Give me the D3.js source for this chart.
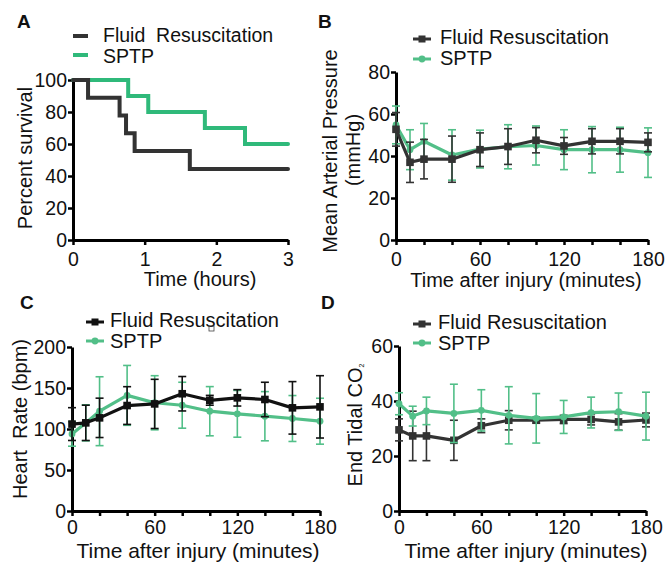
<!DOCTYPE html>
<html>
<head>
<meta charset="utf-8">
<script src="https://cdn.jsdelivr.net/npm/d3@7"></script>
<style>
  body { margin: 0; background: #fff; }
  svg { display: block; font-family: "Liberation Sans", Arial, sans-serif; }
</style>
</head>
<body>
<svg id="fig" width="666" height="562"></svg>
<script>
// Panel A - Kaplan-Meier survival
const kmFluidT = [0, 0.21, 0.65, 0.74, 0.86, 1.63, 3];
const kmFluidS = [100, 88.9, 77.8, 66.7, 55.6, 44.4, 44.4];
const kmSptpT = [0, 0.77, 1.05, 1.84, 2.4, 3];
const kmSptpS = [100, 90, 80, 70, 60, 60];

// time points (minutes) for B, C, D
const minutes = [0, 10, 20, 40, 60, 80, 100, 120, 140, 160, 180];

// Panel B - mean arterial pressure
const mapFluid = [52.7, 37, 38.5, 38.5, 43, 44.5, 47.5, 44.8, 47, 47, 46.5];
const mapFluidErr = [8, 9.6, 9.4, 11, 8, 8.5, 6, 4, 6, 6, 4.5];
const mapSptp = [54.8, 43, 47, 40.5, 43.3, 44.4, 45, 43, 43, 43, 41.6];
const mapSptpErr = [9, 9.5, 8.5, 12, 9, 10.5, 9.3, 9.5, 11, 10.7, 11.8];

// Panel C - heart rate
const hrFluid = [106, 107.5, 113.6, 128.6, 130.6, 143, 135, 138, 136, 125.8, 127];
const hrFluidErr = [20, 21.5, 24, 23, 30, 21, 6, 10, 21, 32, 38];
const hrSptp = [94, 107.5, 121.7, 141, 132, 129, 121.7, 118.5, 115.6, 112.8, 109.5];
const hrSptpErr = [15, 22, 42, 36.5, 33, 28, 30, 28.5, 30, 28, 28];

// Panel D - end tidal CO2
const co2Fluid = [29.5, 27.3, 27.3, 25.7, 31, 33, 33, 33.3, 33.3, 32.4, 33.1];
const co2FluidErr = [4, 9, 9, 7.3, 2.5, 3.5, 1, 1.5, 2, 3, 2.5];
const co2Sptp = [39, 34.5, 36.4, 35.5, 36.6, 34.8, 33.7, 34.2, 35.8, 36.1, 34.5];
const co2SptpErr = [4, 3.6, 5, 10.6, 7.5, 10.4, 9, 6, 5.6, 6.8, 8.7];

const minuteTicks = [0, 20, 40, 60, 80, 100, 120, 140, 160, 180];
const minuteLabels = [0, 60, 120, 180];

const DARK = "#333333";
const BLACK = "#111111";
const GREEN_A = "#2fb97a";
const GREEN = "#52bf88";

const svg = d3.select("#fig");

function styleAxis(g, fontSize) {
  g.attr("font-family", null).attr("font-size", null);
  g.select(".domain").attr("stroke", "#000").attr("stroke-width", 3);
  g.selectAll(".tick line").attr("stroke", "#000").attr("stroke-width", 2.5);
  g.selectAll(".tick text").attr("fill", "#111").style("font-size", fontSize + "px");
}

function axes(x, y, xTicks, xLabels, yTicks, xPad) {
  const gx = svg.append("g")
    .attr("transform", `translate(0,${y.range()[0]})`)
    .call(d3.axisBottom(x).tickValues(xTicks).tickSize(5).tickSizeOuter(0).tickPadding(xPad)
      .tickFormat(d => xLabels.includes(d) ? d : ""));
  styleAxis(gx, 19.5);
  const gy = svg.append("g")
    .attr("transform", `translate(${x.range()[0]},0)`)
    .call(d3.axisLeft(y).tickValues(yTicks).tickSize(5).tickSizeOuter(0).tickPadding(1));
  styleAxis(gy, 19.5);
}

function text(x, y, str, size, opts = {}) {
  return svg.append("text")
    .attr("x", x).attr("y", y)
    .attr("font-size", size)
    .attr("fill", "#111")
    .attr("text-anchor", opts.anchor || "start")
    .attr("font-weight", opts.bold ? "bold" : null)
    .style("white-space", "pre")
    .text(str);
}

function vtext(x, y, str, size) {
  return svg.append("text")
    .attr("transform", `translate(${x},${y}) rotate(-90)`)
    .attr("text-anchor", "middle")
    .attr("font-size", size)
    .attr("fill", "#111")
    .style("white-space", "pre")
    .text(str);
}

function series(x, y, vals, errs, color, shape) {
  const pts = minutes.map((m, i) => ({ m, v: vals[i], e: errs[i] }));
  const g = svg.append("g");
  // error bars
  const eb = g.selectAll(".eb").data(pts).enter().append("g")
    .attr("stroke", color).attr("stroke-width", 1.6);
  eb.append("line")
    .attr("x1", d => x(d.m)).attr("x2", d => x(d.m))
    .attr("y1", d => y(d.v + d.e)).attr("y2", d => y(d.v - d.e));
  eb.append("line")
    .attr("x1", d => x(d.m) - 4).attr("x2", d => x(d.m) + 4)
    .attr("y1", d => y(d.v + d.e)).attr("y2", d => y(d.v + d.e));
  eb.append("line")
    .attr("x1", d => x(d.m) - 4).attr("x2", d => x(d.m) + 4)
    .attr("y1", d => y(d.v - d.e)).attr("y2", d => y(d.v - d.e));
  // line
  g.append("path").datum(pts)
    .attr("fill", "none").attr("stroke", color).attr("stroke-width", 3.2)
    .attr("stroke-linejoin", "round")
    .attr("d", d3.line().x(d => x(d.m)).y(d => y(d.v)));
  // markers
  if (shape === "square") {
    g.selectAll(".mk").data(pts).enter().append("rect")
      .attr("x", d => x(d.m) - 3.8).attr("y", d => y(d.v) - 3.8)
      .attr("width", 7.6).attr("height", 7.6).attr("fill", color);
  } else {
    g.selectAll(".mk").data(pts).enter().append("circle")
      .attr("cx", d => x(d.m)).attr("cy", d => y(d.v)).attr("r", 3.4).attr("fill", color);
  }
}

function legend(x0, y1, y2, tx, b1, b2, darkColor, greenColor) {
  svg.append("line").attr("x1", x0).attr("x2", x0 + 18).attr("y1", y1).attr("y2", y1)
    .attr("stroke", darkColor).attr("stroke-width", 3);
  svg.append("rect").attr("x", x0 + 5.5).attr("y", y1 - 3.5).attr("width", 7).attr("height", 7).attr("fill", darkColor);
  svg.append("line").attr("x1", x0).attr("x2", x0 + 18).attr("y1", y2).attr("y2", y2)
    .attr("stroke", greenColor).attr("stroke-width", 3);
  svg.append("circle").attr("cx", x0 + 9).attr("cy", y2).attr("r", 3.4).attr("fill", greenColor);
  text(tx, b1, "Fluid Resuscitation", 20);
  text(tx, b2, "SPTP", 20);
}

// ---------------- Panel A ----------------
{
  const x = d3.scaleLinear().domain([0, 3]).range([73, 288]);
  const y = d3.scaleLinear().domain([0, 100]).range([240, 80]);
  axes(x, y, [0, 1, 2, 3], [0, 1, 2, 3], [0, 20, 40, 60, 80, 100], 7);

  const step = d3.line().curve(d3.curveStepAfter).x(d => x(d[0])).y(d => y(d[1]));
  svg.append("path").datum(kmSptpT.map((t, i) => [t, kmSptpS[i]]))
    .attr("fill", "none").attr("stroke", GREEN_A).attr("stroke-width", 4)
    .attr("stroke-linecap", "round").attr("d", step);
  svg.append("path").datum(kmFluidT.map((t, i) => [t, kmFluidS[i]]))
    .attr("fill", "none").attr("stroke", DARK).attr("stroke-width", 4)
    .attr("stroke-linecap", "round").attr("d", step);

  text(17, 28, "A", 19, { bold: true });
  svg.append("line").attr("x1", 73).attr("x2", 88).attr("y1", 36).attr("y2", 36)
    .attr("stroke", DARK).attr("stroke-width", 4);
  svg.append("line").attr("x1", 73).attr("x2", 88).attr("y1", 55).attr("y2", 55)
    .attr("stroke", GREEN_A).attr("stroke-width", 4);
  text(103, 42, "Fluid  Resuscitation", 19.5);
  text(103, 63, "SPTP", 19.5);
  vtext(32, 158, "Percent survival", 20);
  text(200, 286, "Time (hours)", 20, { anchor: "middle" });
}

// ---------------- Panel B ----------------
{
  const x = d3.scaleLinear().domain([0, 180]).range([396, 648]);
  const y = d3.scaleLinear().domain([0, 80]).range([240, 72]);
  axes(x, y, minuteTicks, minuteLabels, [0, 20, 40, 60, 80], 7);
  series(x, y, mapSptp, mapSptpErr, GREEN, "circle");
  series(x, y, mapFluid, mapFluidErr, DARK, "square");

  text(318, 28, "B", 19, { bold: true });
  legend(413, 39, 59, 440, 44, 65, DARK, GREEN);
  vtext(337, 151, "Mean Arterial Pressure", 20);
  vtext(360, 150, "(mmHg)", 20);
  text(526, 287, "Time after injury (minutes)", 20, { anchor: "middle" });
}

// ---------------- Panel C ----------------
{
  const x = d3.scaleLinear().domain([0, 180]).range([72, 320]);
  const y = d3.scaleLinear().domain([0, 200]).range([511, 347]);
  axes(x, y, minuteTicks, minuteLabels, [0, 50, 100, 150, 200], 4);
  series(x, y, hrSptp, hrSptpErr, GREEN, "circle");
  series(x, y, hrFluid, hrFluidErr, BLACK, "square");

  text(20, 309, "C", 19, { bold: true });
  legend(86, 322, 341, 110, 327, 348, BLACK, GREEN);
  svg.append("rect").attr("x", 209).attr("y", 326).attr("width", 5).attr("height", 5)
    .attr("fill", "none").attr("stroke", "#444").attr("stroke-width", 0.8);
  vtext(27, 419, "Heart  Rate (bpm)", 20);
  text(198, 558, "Time after injury (minutes)", 21, { anchor: "middle" });
}

// ---------------- Panel D ----------------
{
  const x = d3.scaleLinear().domain([0, 180]).range([399, 646]);
  const y = d3.scaleLinear().domain([0, 60]).range([511, 346]);
  axes(x, y, minuteTicks, minuteLabels, [0, 20, 40, 60], 4);
  series(x, y, co2Fluid, co2FluidErr, DARK, "square");
  series(x, y, co2Sptp, co2SptpErr, GREEN, "circle");

  text(321, 309, "D", 19, { bold: true });
  legend(413, 324, 343, 438, 329, 350, DARK, GREEN);
  const t = vtext(362, 425, "End Tidal CO", 20);
  t.append("tspan").attr("font-size", 7).attr("dy", 2).text("2");
  text(526, 558, "Time after injury (minutes)", 21, { anchor: "middle" });
}
</script>
</body>
</html>
